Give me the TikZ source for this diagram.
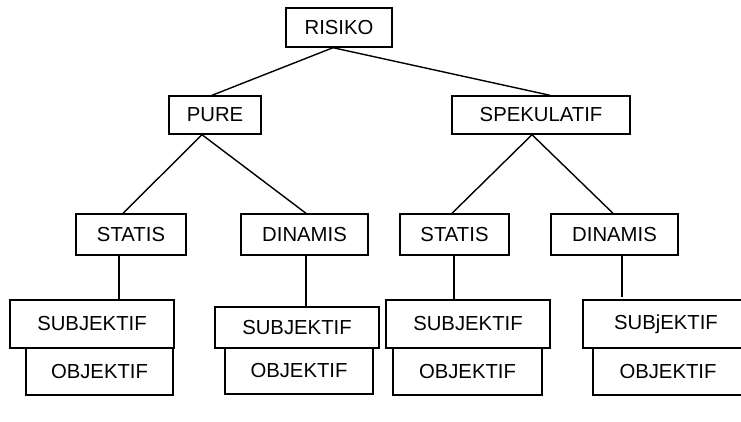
\documentclass[tikz,border=0pt]{standalone}
\usepackage{fontspec}
\setmainfont{Liberation Sans}
\begin{document}
\begin{tikzpicture}[x=1pt,y=-1pt,
  box/.style={draw, line width=1.4pt, inner sep=0pt, anchor=center,
    font=\fontsize{20.3}{23}\selectfont},
  link/.style={line width=1.4pt}]
\useasboundingbox (0,0) rectangle (741,421);

% top levels
\node[box, minimum width=106pt, minimum height=39pt] (risiko) at (339,27.5) {RISIKO};
\node[box, minimum width=92pt,  minimum height=38pt] (pure)   at (215,115)  {PURE};
\node[box, minimum width=178pt, minimum height=38pt] (spek)   at (541,115)  {SPEKULATIF};

% third level
\node[box, minimum width=110pt, minimum height=41pt] (stl) at (131,234.5)   {STATIS};
\node[box, minimum width=127pt, minimum height=41pt] (dnl) at (304.5,234.5) {DINAMIS};
\node[box, minimum width=109pt, minimum height=41pt] (str) at (454.5,234.5) {STATIS};
\node[box, minimum width=127pt, minimum height=41pt] (dnr) at (614.5,234.5) {DINAMIS};

% bottom pairs
\node[box, minimum width=147pt, minimum height=47pt] (ob1) at (99.5,371.5) {OBJEKTIF};
\node[box, minimum width=164pt, minimum height=48pt] (sb1) at (92,324)     {SUBJEKTIF};
\node[box, minimum width=148pt, minimum height=46pt] (ob2) at (299,371)    {OBJEKTIF};
\node[box, minimum width=164pt, minimum height=41pt] (sb2) at (297,327.5)  {SUBJEKTIF};
\node[box, minimum width=149pt, minimum height=47pt] (ob3) at (467.5,371.5) {OBJEKTIF};
\node[box, minimum width=164pt, minimum height=48pt] (sb3) at (468,324)    {SUBJEKTIF};
\node[box, minimum width=150pt, minimum height=47pt] (ob4) at (668,371.5)  {OBJEKTIF};
\node[box, minimum width=166pt, minimum height=48pt] (sb4) at (666,324)    {SUBjEKTIF};

% connectors
\draw[link] ([xshift=-6pt]risiko.south) -- ([xshift=-3pt]pure.north);
\draw[link] ([xshift=-6pt]risiko.south) -- ([xshift=9pt]spek.north);
\draw[link] ([xshift=-13pt]pure.south) -- ([xshift=-8pt]stl.north);
\draw[link] ([xshift=-13pt]pure.south) -- ([xshift=1.5pt]dnl.north);
\draw[link] ([xshift=-9pt]spek.south) -- ([xshift=-2.5pt]str.north);
\draw[link] ([xshift=-9pt]spek.south) -- ([xshift=-1.5pt]dnr.north);
\draw[link] ([xshift=-12pt]stl.south) -- ([xshift=27pt]sb1.north);
\draw[link] ([xshift=1.5pt]dnl.south) -- ([xshift=9pt]sb2.north);
\draw[link] ([xshift=-0.5pt]str.south) -- ([xshift=-14pt]sb3.north);
\draw[link] ([xshift=7.5pt]dnr.south) -- ([xshift=-44pt,yshift=2pt]sb4.north);
\end{tikzpicture}
\end{document}
